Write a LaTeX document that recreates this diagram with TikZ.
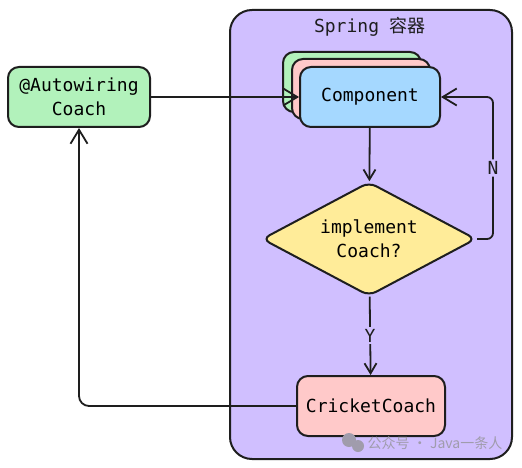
\documentclass[tikz,border=0pt]{standalone}
\usepackage{fontspec}
\setmonofont{DejaVu Sans Mono}
\newfontfamily\cjk{Noto Sans CJK SC}
\usepackage{tikz}
\usetikzlibrary{positioning,arrows.meta,shapes.geometric}
\definecolor{ink}{HTML}{1E1E1E}
\definecolor{springbg}{HTML}{D0BFFF}
\definecolor{cardgreen}{HTML}{B2F2BB}
\definecolor{cardblue}{HTML}{A5D8FF}
\definecolor{cardpink}{HTML}{FFC9C9}
\definecolor{cardyellow}{HTML}{FFEC99}
\definecolor{markgrey}{HTML}{A09CAC}

\begin{document}
\begin{tikzpicture}[x=1pt, y=-1pt,
  card/.style={rectangle, rounded corners=11pt, draw=ink, line width=2pt, align=center,
    minimum width=138pt, minimum height=60pt, font=\ttfamily\fontsize{18}{24}\selectfont},
  decision/.style={diamond, aspect=2, rounded corners=8pt, draw=ink, line width=2pt, align=center,
    minimum width=214pt, minimum height=114pt, inner sep=0pt, fill=cardyellow,
    font=\ttfamily\fontsize{18}{24}\selectfont},
  flow/.style={draw=ink, line width=1.8pt, -{Straight Barb[length=14pt,width=17pt]}},
  branch/.style={fill=springbg, inner sep=2pt, text=ink, font=\ttfamily\fontsize{18}{24}\selectfont}]
  \useasboundingbox (0,0) rectangle (522,468);
  \draw[ink, line width=2pt, fill=springbg, rounded corners=22pt] (230,10) rectangle (512,459);
  \node (title) at (370,27) [text=ink, font=\ttfamily\fontsize{18}{24}\selectfont] {Spring {\cjk 容器}};

  \node (autowiring) at (79,97) [card, fill=cardgreen, minimum width=142pt] {@Autowiring\\Coach};
  \node (cardback) at (352,82) [card, fill=cardgreen] {};
  \node (cardmid) at (361,89) [card, fill=cardpink] {};
  \node (component) at (370,97) [card, fill=cardblue, minimum width=140pt] {Component};
  \node (check) at (369,239) [decision] {implement\\Coach?};
  \node (cricket) at (371,406) [card, fill=cardpink, minimum width=148pt] {CricketCoach};

  \draw[flow] (autowiring) to (component);
  \draw[flow, -{Straight Barb[length=10pt,width=12pt]}] (component) to (check);
  \draw[flow, rounded corners=6pt] (check.east) -- (493,239) -- node[branch] {N} (493,97) -- (component.east);
  \draw[flow, -{Straight Barb[length=10pt,width=12pt]}] (check) to node[branch] {Y} (cricket);
  \draw[flow, rounded corners=10pt] (cricket.west) -| (autowiring.south);

  \fill[markgrey] (349,440) circle (7pt);
  \fill[markgrey] (358,446) circle (6pt);
  \node (mark) at (435,443) [text=markgrey, font=\cjk\fontsize{14}{16}\selectfont] {公众号 · Java一条人};
\end{tikzpicture}
\end{document}
